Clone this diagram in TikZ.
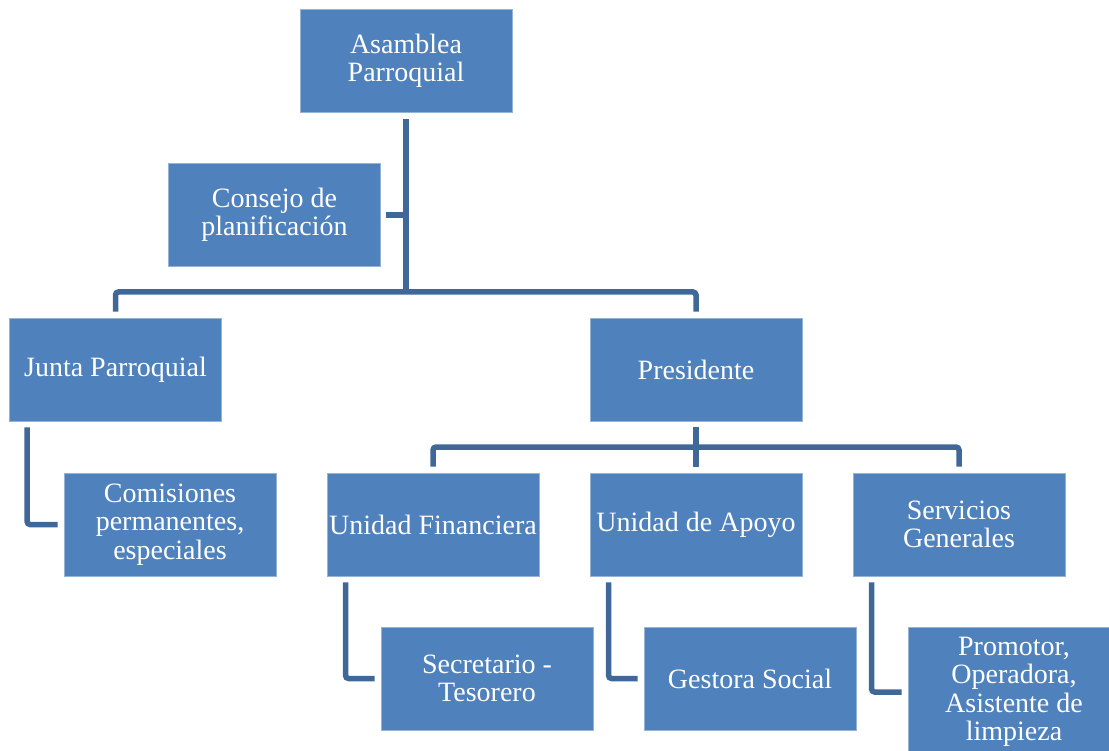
\documentclass[tikz,border=0pt]{standalone}
\usepackage{fontspec}
\setmainfont{Liberation Serif}
\definecolor{boxblue}{HTML}{4F81BD}
\definecolor{boxedge}{HTML}{95B3D7}
\definecolor{linec}{HTML}{3F6898}
\begin{document}
\begin{tikzpicture}[x=1pt,y=-1pt,
  orgbox/.style={rectangle, fill=boxblue, draw=boxedge, line width=0.8pt,
    minimum width=212pt, minimum height=103pt, inner sep=1pt,
    align=center, text=white,
    font=\fontsize{28}{28.5}\selectfont},
  conn/.style={draw=linec, line width=5.5pt},
  elbow/.style={conn, rounded corners=3pt}]
\useasboundingbox (0,0) rectangle (1109,751);
\node[orgbox] (asam) at (406,61) {Asamblea\\Parroquial};
\node[orgbox] (cons) at (274.5,215) {Consejo de\\planificación};
\node[orgbox] (junta) at (115.5,369.5) {Junta Parroquial};
\node[orgbox] (pres) at (696,369.5) {Presidente};
\node[orgbox] (com) at (170,524.5) {Comisiones\\permanentes,\\especiales};
\node[orgbox] (fin) at (433,524.5) {Unidad Financiera};
\node[orgbox] (apoyo) at (696,524.5) {Unidad de Apoyo};
\node[orgbox] (serv) at (959,524.5) {Servicios\\Generales};
\node[orgbox] (sec) at (487,678.5) {Secretario -\\Tesorero};
\node[orgbox] (gest) at (750,678.5) {Gestora Social};
\node[orgbox, minimum height=130pt] (prom) at (1014,692) {Promotor,\\Operadora,\\Asistente de\\limpieza};
% top connectors
\coordinate (b1) at (406,292);
\draw[conn] ([yshift=-6pt]asam.south) -- (b1);
\draw[conn] ([xshift=5pt]cons.east) -- (cons.east -| b1);
\draw[elbow] ([yshift=6pt]junta.north) |- (b1) -| ([yshift=6pt]pres.north);
% presidente connectors
\coordinate (b2) at (696,447);
\draw[conn] ([yshift=-6pt]pres.south) -- ([yshift=6pt]apoyo.north);
\draw[elbow] ([yshift=6pt]fin.north) |- (b2) -| ([yshift=6pt]serv.north);
% elbows to subordinates
\draw[elbow] ([xshift=18pt,yshift=-6pt]junta.south west) |- ([xshift=-6pt]com.west);
\draw[elbow] ([xshift=19pt,yshift=-6pt]fin.south west) |- ([xshift=-6pt]sec.west);
\draw[elbow] ([xshift=19pt,yshift=-6pt]apoyo.south west) |- ([xshift=-6pt]gest.west);
\draw[elbow] ([xshift=19pt,yshift=-6pt]serv.south west) |- ([xshift=-6pt]prom.west);
\end{tikzpicture}
\end{document}
